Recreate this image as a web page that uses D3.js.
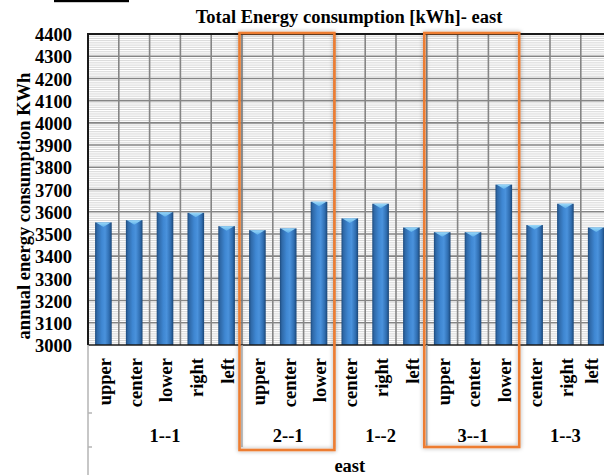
<!DOCTYPE html>
<html><head><meta charset="utf-8">
<script src="https://cdn.jsdelivr.net/npm/d3@7"></script>
<style>
html,body{margin:0;padding:0;background:#fff;overflow:hidden}
svg{display:block}
text{font-family:"Liberation Serif","Times New Roman",serif;font-weight:bold;fill:#000}
</style></head>
<body>
<script>
const title = "Total Energy consumption [kWh]- east";
const yTitle = "annual energy consumption KWh";
const xTitle = "east";
const groups = ["1--1","2--1","1--2","3--1","1--3"];
const positions = [
  ["upper","center","lower","right","left"],
  ["upper","center","lower"],
  ["center","right","left"],
  ["upper","center","lower"],
  ["center","right","left"]
];
const values = [
  [3552,3562,3598,3595,3535],
  [3517,3525,3645],
  [3570,3636,3529],
  [3508,3508,3722],
  [3540,3636,3529]
];
const yTicks = d3.range(3000, 4401, 100);
const highlighted = ["2--1","3--1"];

(function(){
const W = 604, H = 475;
const svg = d3.select("body").append("svg").attr("width", W).attr("height", H);
const defs = svg.append("defs");

const grad = defs.append("linearGradient").attr("id","barGrad").attr("x1","0").attr("x2","1").attr("y1","0").attr("y2","0");
[[0,"#1d4a7c"],[0.12,"#2f69a8"],[0.4,"#3f87d2"],[0.6,"#4a92dc"],[0.85,"#2f6db0"],[1,"#1a4575"]]
  .forEach(([o,c]) => grad.append("stop").attr("offset",o).attr("stop-color",c));
const capGrad = defs.append("linearGradient").attr("id","capGrad").attr("x1","0").attr("x2","0").attr("y1","0").attr("y2","1");
capGrad.append("stop").attr("offset",0).attr("stop-color","#9ad8f8");
capGrad.append("stop").attr("offset",1).attr("stop-color","#5fb0ea");

const glow = defs.append("filter").attr("id","glow").attr("x","-10%").attr("y","-10%").attr("width","120%").attr("height","120%");
glow.append("feGaussianBlur").attr("in","SourceAlpha").attr("stdDeviation",2.2).attr("result","b");
glow.append("feFlood").attr("flood-color","#000").attr("flood-opacity",0.35);
glow.append("feComposite").attr("in2","b").attr("operator","in").attr("result","s");
const m = glow.append("feMerge");
m.append("feMergeNode").attr("in","s");
m.append("feMergeNode").attr("in","SourceGraphic");

const flat = [];
groups.forEach((g,gi) => positions[gi].forEach((p,pi) => flat.push({group:g, pos:p, value:values[gi][pi], idx:flat.length})));

const pL = 88, pT = 34, pB = 345, pR = 88 + 30.8*flat.length;
const x = d3.scaleBand().domain(flat.map(d=>d.idx)).range([pL,pR]).padding(0);
const y = d3.scaleLinear().domain([3000,4400]).range([pB, pT]);

const minor = d3.range(3000, 4400, 10).filter(v => v % 100 !== 0);
svg.append("g").selectAll("line").data(minor).join("line")
  .attr("x1",pL).attr("x2",pR).attr("y1",d=>y(d)).attr("y2",d=>y(d))
  .attr("stroke","#d6d6d6").attr("stroke-width",1);
svg.append("g").selectAll("line").data(yTicks.filter(v=>v>3000 && v<4400)).join("line")
  .attr("x1",pL).attr("x2",pR).attr("y1",d=>y(d)).attr("y2",d=>y(d))
  .attr("stroke","#858585").attr("stroke-width",1.6);
svg.append("g").selectAll("line").data(flat.slice(1)).join("line")
  .attr("x1",d=>x(d.idx)).attr("x2",d=>x(d.idx)).attr("y1",pT).attr("y2",pB)
  .attr("stroke","#858585").attr("stroke-width",1.6);

const bw = x.bandwidth()*0.54;
const bars = svg.append("g").selectAll("g").data(flat).join("g");
bars.append("rect")
  .attr("x", d => x(d.idx) + (x.bandwidth()-bw)/2)
  .attr("y", d => y(d.value))
  .attr("width", bw)
  .attr("height", d => pB - y(d.value))
  .attr("fill","url(#barGrad)");
bars.append("path")
  .attr("d", d => {
    const x0 = x(d.idx) + (x.bandwidth()-bw)/2, y0 = y(d.value);
    return `M${x0+1},${y0}L${x0+bw-1},${y0}L${x0+bw/2},${y0+4.5}Z`;
  })
  .attr("fill","url(#capGrad)");

svg.append("line").attr("x1",pL-1).attr("x2",pR).attr("y1",pT).attr("y2",pT).attr("stroke","#1a1a1a").attr("stroke-width",2);
svg.append("line").attr("x1",pL).attr("x2",pL).attr("y1",pT).attr("y2",pB).attr("stroke","#1a1a1a").attr("stroke-width",2);
svg.append("line").attr("x1",pL).attr("x2",pR).attr("y1",pB).attr("y2",pB).attr("stroke","#1a1a1a").attr("stroke-width",1.5);

const yAxis = d3.axisLeft(y).tickValues(yTicks).tickSize(0).tickPadding(0).tickFormat(d3.format("d"));
const ya = svg.append("g").attr("transform",`translate(${72},0)`).call(yAxis);
ya.select(".domain").remove();
ya.attr("font-family",null).attr("font-size",null);
ya.selectAll("text").attr("font-size","18.5px").attr("dy","0.36em").attr("fill","#000");

const axisC = "#b5b5b5";
svg.append("line").attr("x1",pL).attr("x2",pL).attr("y1",pB).attr("y2",H).attr("stroke",axisC).attr("stroke-width",1.5);
const groupStarts = [];
let acc = 0;
groups.forEach((g,gi) => { groupStarts.push(acc); acc += positions[gi].length; });
svg.append("g").selectAll("line").data(groupStarts.slice(1)).join("line")
  .attr("x1",d=>x(d)).attr("x2",d=>x(d)).attr("y1",pB).attr("y2",447)
  .attr("stroke",axisC).attr("stroke-width",1.5);
[413,447].forEach(yy => svg.append("line").attr("x1",pL).attr("x2",pL+4).attr("y1",yy).attr("y2",yy).attr("stroke",axisC).attr("stroke-width",1.5));

svg.append("g").selectAll("text").data(flat).join("text")
  .attr("transform", d => `translate(${Math.min(x(d.idx)+x.bandwidth()/2, 591)},358) rotate(-90)`)
  .attr("text-anchor","end").attr("dy","0.4em").attr("font-size","18.5px")
  .text(d => d.pos);

svg.append("g").selectAll("text").data(groups).join("text")
  .attr("x",(g,gi) => (x(groupStarts[gi]) + x(groupStarts[gi]+positions[gi].length-1) + x.bandwidth())/2)
  .attr("y",441.5).attr("text-anchor","middle").attr("font-size","18.5px")
  .text(g => g);

svg.append("text").attr("x",(pL+pR)/2).attr("y",471.5).attr("text-anchor","middle").attr("font-size","18.5px").text(xTitle);
svg.append("text").attr("transform","translate(30,206) rotate(-90)").attr("text-anchor","middle").attr("font-size","18.5px").text(yTitle);
svg.append("text").attr("x",349).attr("y",23).attr("text-anchor","middle").attr("font-size","18.5px").text(title);

const hb = svg.append("g");
highlighted.forEach(g => {
  const gi = groups.indexOf(g);
  const x0 = x(groupStarts[gi]) - 2.5, x1 = x(groupStarts[gi]+positions[gi].length-1) + x.bandwidth();
  hb.append("rect").attr("x",x0).attr("y",pT-1).attr("width",x1-x0).attr("height",(gi===1?450:447)-pT+1)
    .attr("fill","none").attr("stroke","#ed7d31").attr("stroke-width",2.6).attr("filter","url(#glow)");
});

svg.append("rect").attr("x",54).attr("y",0).attr("width",75).attr("height",2.2).attr("fill","#000");
})();
</script>
</body></html>
